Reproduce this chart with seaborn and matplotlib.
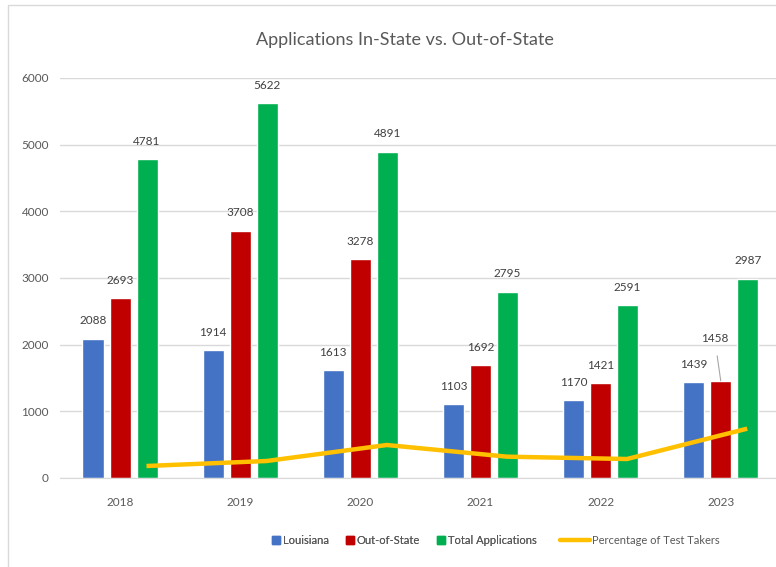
import pandas as pd
import numpy as np
import matplotlib
matplotlib.use('Agg')
import matplotlib.pyplot as plt
import seaborn as sns
from matplotlib.lines import Line2D
from matplotlib.patches import Rectangle

years = ['2018', '2019', '2020', '2021', '2022', '2023']
louisiana = [2088, 1914, 1613, 1103, 1170, 1439]
out_of_state = [2693, 3708, 3278, 1692, 1421, 1458]
total_apps = [4781, 5622, 4891, 2795, 2591, 2987]
# percentage line
pct_test_takers = [180, 255, 495, 320, 285, 740]

series_names = ['Louisiana', 'Out-of-State', 'Total Applications']
colors = ['#4472C4', '#C00000', '#00B050']
line_color = '#FFC000'
text_color = '#595959'

sns.set_style('white')
plt.rcParams['font.family'] = ['Lato', 'DejaVu Sans']

df = pd.DataFrame({
    'Year': years * 3,
    'Series': np.repeat(series_names, len(years)),
    'Value': louisiana + out_of_state + total_apps,
})

fig = plt.figure(figsize=(7.76, 5.67), dpi=100)
ax = fig.add_axes([60 / 776, 1 - 478 / 567, 716 / 776, 400 / 567])

sns.barplot(data=df, x='Year', y='Value', hue='Series', palette=colors,
            width=0.675, gap=0.22, ax=ax, legend=False, saturation=1)

# line points line up with the green bars
line_df = pd.DataFrame({'x': np.arange(len(years)) + 0.22, 'y': pct_test_takers})
sns.lineplot(data=line_df, x='x', y='y', color=line_color, lw=3.2, ax=ax,
             solid_capstyle='butt')

# data labels
offsets = [-0.225, 0.0, 0.225]
for vals, off in zip([louisiana, out_of_state, total_apps], offsets):
    for i, v in enumerate(vals):
        if years[i] == '2023' and off == 0.0:
            ax.annotate(str(v), xy=(i + off, v), xytext=(i + off - 0.05, v + 630),
                        ha='center', va='center', fontsize=8.5, color='#404040',
                        arrowprops=dict(arrowstyle='-', color='#A6A6A6', lw=0.8,
                                        shrinkA=6, shrinkB=0))
        else:
            ax.annotate(str(v), xy=(i + off, v), xytext=(0, 9), textcoords='offset points',
                        ha='center', va='bottom', fontsize=8.5, color='#404040')

ax.set_xlim(-0.5, 5.46)
ax.set_ylim(0, 6000)
ax.set_yticks(range(0, 6001, 1000))
ax.yaxis.grid(True, color='#D9D9D9', lw=1)
ax.set_axisbelow(True)
for s in ['top', 'right', 'left']:
    ax.spines[s].set_visible(False)
ax.spines['bottom'].set_color('#D9D9D9')
ax.tick_params(axis='both', length=0, colors=text_color, labelsize=8.5)
ax.tick_params(axis='x', pad=14)
ax.tick_params(axis='y', pad=8)
ax.set_xlabel('')
ax.set_ylabel('')

fig.text(405 / 776, 1 - 40 / 567, 'Applications In-State vs. Out-of-State',
         ha='center', va='center', fontsize=13, color=text_color)

# legend: squares for the bars, a longer line for the percentage series
sq_handles = [Line2D([], [], ls='none', marker='s', markersize=5.2, color=c) for c in colors]
leg1 = fig.legend(sq_handles, series_names, loc='center left',
                  bbox_to_anchor=(272 / 776, 1 - 540 / 567), ncol=3, frameon=False,
                  fontsize=8, labelcolor=text_color, handlelength=0.7,
                  handletextpad=0.3, columnspacing=1.5, borderpad=0, borderaxespad=0)
fig.add_artist(leg1)
fig.legend([Line2D([], [], color=line_color, lw=3.2)], ['Percentage of Test Takers'],
           loc='center left', bbox_to_anchor=(560 / 776, 1 - 540 / 567), frameon=False,
           fontsize=8, labelcolor=text_color, handlelength=2.7, handletextpad=0.15,
           borderpad=0, borderaxespad=0)

# chart area border
fig.patches.append(Rectangle((8 / 776, -0.05), 1.1, 1 - 5 / 567 + 0.05,
                             transform=fig.transFigure, fill=False,
                             ec='#D9D9D9', lw=1))

fig.savefig('out.png', dpi=100)
